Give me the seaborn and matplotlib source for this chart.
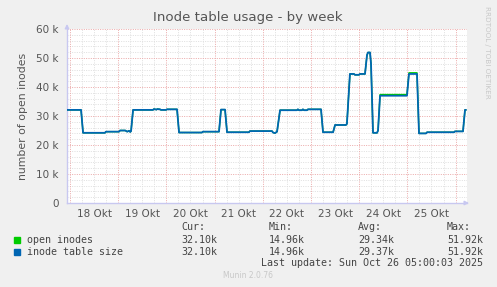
import matplotlib
matplotlib.use("Agg")
import matplotlib.pyplot as plt
import matplotlib.patches as mpatches
import seaborn as sns
import pandas as pd
import numpy as np

# ---- data (hours since 18 Okt 00:00, values in thousands) ----
hours = [-1.5, 5.5, 6.5, 17.4, 17.9, 24.4, 24.9, 27.5, 28.5, 29.4, 30.0, 30.4, 31.4,
         41.3, 41.8, 43.0, 43.5, 44.8, 45.3, 47.8, 48.3, 53.3, 54.3, 65.7, 66.2,
         74.2, 75.2, 77.2, 78.2, 89.1, 89.6, 100.6, 101.1, 102.1, 103.1, 104.6,
         113.0, 113.5, 114.0, 115.5, 116.0, 116.5, 118.0, 118.5, 125.0, 126.0,
         131.0, 132.0, 137.4, 137.9, 139.4, 141.4, 141.9, 143.9, 144.4, 146.9,
         147.9, 148.4, 149.4, 149.9, 150.9, 152.9, 153.4, 154.4, 167.8, 168.8,
         172.8, 173.8, 177.3, 177.8, 191.2, 191.7, 195.7, 196.7, 197.2]
inode_table_size = [32.1, 32.1, 24.2, 24.2, 24.6, 24.6, 25.0, 25.0, 24.6, 24.9, 24.5, 24.8, 32.1,
                    32.1, 32.4, 32.2, 32.4, 32.3, 32.1, 32.1, 32.3, 32.3, 24.3, 24.3, 24.6,
                    24.6, 32.2, 32.2, 24.4, 24.4, 24.8, 24.8, 24.3, 24.1, 24.6, 32.0,
                    32.0, 32.3, 32.0, 32.0, 32.3, 32.0, 32.0, 32.3, 32.3, 24.4,
                    24.4, 26.9, 26.9, 27.3, 44.5, 44.5, 44.2, 44.2, 44.5, 44.5,
                    51.0, 51.9, 51.9, 48.0, 24.2, 24.2, 25.0, 37.0, 37.0, 44.5,
                    44.5, 24.0, 24.0, 24.4, 24.4, 24.7, 24.7, 32.1, 32.1]
open_inodes = [32.1, 32.1, 24.2, 24.2, 24.6, 24.6, 25.0, 25.0, 24.6, 24.9, 24.5, 24.8, 32.1,
               32.1, 32.4, 32.2, 32.4, 32.3, 32.1, 32.1, 32.3, 32.3, 24.3, 24.3, 24.6,
               24.6, 32.2, 32.2, 24.4, 24.4, 24.8, 24.8, 24.3, 24.1, 24.6, 32.0,
               32.0, 32.3, 32.0, 32.0, 32.3, 32.0, 32.0, 32.3, 32.3, 24.4,
               24.4, 26.9, 26.9, 27.3, 44.5, 44.5, 44.2, 44.2, 44.5, 44.5,
               51.0, 51.9, 51.9, 48.0, 24.2, 24.2, 25.0, 37.4, 37.4, 44.9,
               44.9, 24.0, 24.0, 24.4, 24.4, 24.7, 24.7, 32.1, 32.1]

day_labels = ["18 Okt", "19 Okt", "20 Okt", "21 Okt", "22 Okt", "23 Okt", "24 Okt", "25 Okt"]
series_names = ["open inodes", "inode table size"]
series_colors = ["#00CC00", "#0066B3"]
stat_cur = ["32.10k", "32.10k"]
stat_min = ["14.96k", "14.96k"]
stat_avg = ["29.34k", "29.37k"]
stat_max = ["51.92k", "51.92k"]

df_open = pd.DataFrame({"hour": hours, "value": open_inodes})
df_table = pd.DataFrame({"hour": hours, "value": inode_table_size})

sns.set_style("white")
plt.rcParams["font.family"] = ["DejaVu Sans"]

W, H = 497, 287
fig = plt.figure(figsize=(W / 100, H / 100), dpi=100)
fig.patch.set_facecolor("#F0F0F0")
ax = fig.add_axes([67 / W, 1 - 203 / H, 400 / W, 174 / H])
ax.set_facecolor("white")

xmin, xmax = -1.5, 197.7
ax.set_xlim(xmin, xmax)
ax.set_ylim(0, 60)

# grid
minor_col = "#DEDEDE"
major_col = "#EBA8A8"
for h in np.arange(-0.0, xmax, 6):
    if h % 24 != 0:
        ax.axvline(h, color=minor_col, lw=0.7, ls=(0, (1, 1.4)), zorder=0)
for y in np.arange(2, 60, 2):
    if y % 10 != 0:
        ax.axhline(y, color=minor_col, lw=0.7, ls=(0, (1, 1.4)), zorder=0)
for h in np.arange(0, xmax, 24):
    ax.axvline(h, color=major_col, lw=0.7, ls=(0, (1, 1.4)), zorder=0.5)
for y in np.arange(10, 61, 10):
    ax.axhline(y, color=major_col, lw=0.7, ls=(0, (1, 1.4)), zorder=0.5)

sns.lineplot(data=df_open, x="hour", y="value", color=series_colors[0],
             estimator=None, sort=False, lw=1.0, ax=ax, zorder=3)
sns.lineplot(data=df_table, x="hour", y="value", color=series_colors[1],
             estimator=None, sort=False, lw=1.3, ax=ax, zorder=4)

# ticks
ax.set_yticks(np.arange(0, 61, 10))
ax.set_yticklabels(["0"] + [f"{v} k" for v in range(10, 61, 10)])
ax.set_yticks(np.arange(0, 61, 2), minor=True)
ax.set_xticks(np.arange(0, xmax, 24))
ax.set_xticklabels([""] * len(np.arange(0, xmax, 24)))
noon = np.arange(12, xmax, 24)
ax.set_xticks(noon, minor=True)
ax.set_xticklabels(day_labels[:len(noon)], minor=True)
ax.tick_params(axis="both", which="major", length=3, width=0.7, color=major_col,
               labelsize=7.5, labelcolor="#555555", pad=3)
ax.tick_params(axis="y", which="minor", length=2, width=0.7, color=minor_col)
ax.tick_params(axis="x", which="minor", length=0, labelsize=7.5, labelcolor="#555555", pad=4)

for s in ["top", "right"]:
    ax.spines[s].set_visible(False)
for s in ["left", "bottom"]:
    ax.spines[s].set_color("#C8C8F0")
    ax.spines[s].set_linewidth(1.0)
ax.set_xlabel("")
ax.set_ylabel("number of open inodes", fontsize=7.8, color="#555555", labelpad=6)

# axis arrows
ax.annotate("", xy=(0, 1.045), xytext=(0, 0.99), xycoords="axes fraction",
            arrowprops=dict(arrowstyle="-|>", color="#C8C8F0", lw=1, mutation_scale=6))
ax.annotate("", xy=(1.012, 0), xytext=(0.99, 0), xycoords="axes fraction",
            arrowprops=dict(arrowstyle="-|>", color="#C8C8F0", lw=1, mutation_scale=6))

fig.text(248 / W, 1 - 18 / H, "Inode table usage - by week", ha="center", va="center",
         fontsize=9.6, color="#555555")
fig.text(487 / W, 1 - 52 / H, "RRDTOOL / TOBI OETIKER", rotation=270, ha="center", va="center",
         fontsize=5.2, color="#C8C8C8")

mono = "DejaVu Sans Mono"
fs = 7.2
tc = "#444444"
cols = [181, 269, 358, 447]
heads = ["Cur:", "Min:", "Avg:", "Max:"]
for cx, hd in zip(cols, heads):
    fig.text(cx / W, 1 - 227 / H, hd, ha="left", va="center", family=mono, fontsize=fs, color=tc)
rows_y = [240, 252]
for i, ry in enumerate(rows_y):
    fig.patches.append(mpatches.Rectangle((14 / W, 1 - (ry + 3) / H), 6 / W, 6 / H,
                                          transform=fig.transFigure, color=series_colors[i]))
    fig.text(27 / W, 1 - ry / H, series_names[i], ha="left", va="center", family=mono,
             fontsize=fs, color=tc)
    for cx, val in zip(cols, [stat_cur[i], stat_min[i], stat_avg[i], stat_max[i]]):
        fig.text(cx / W, 1 - ry / H, val, ha="left", va="center", family=mono, fontsize=fs, color=tc)
fig.text(483 / W, 1 - 263 / H, "Last update: Sun Oct 26 05:00:03 2025", ha="right", va="center",
         family=mono, fontsize=fs, color=tc)
fig.text(248 / W, 1 - 276 / H, "Munin 2.0.76", ha="center", va="center", fontsize=5.5, color="#C8C8C8")

fig.savefig("out.png", dpi=100, facecolor=fig.get_facecolor())
